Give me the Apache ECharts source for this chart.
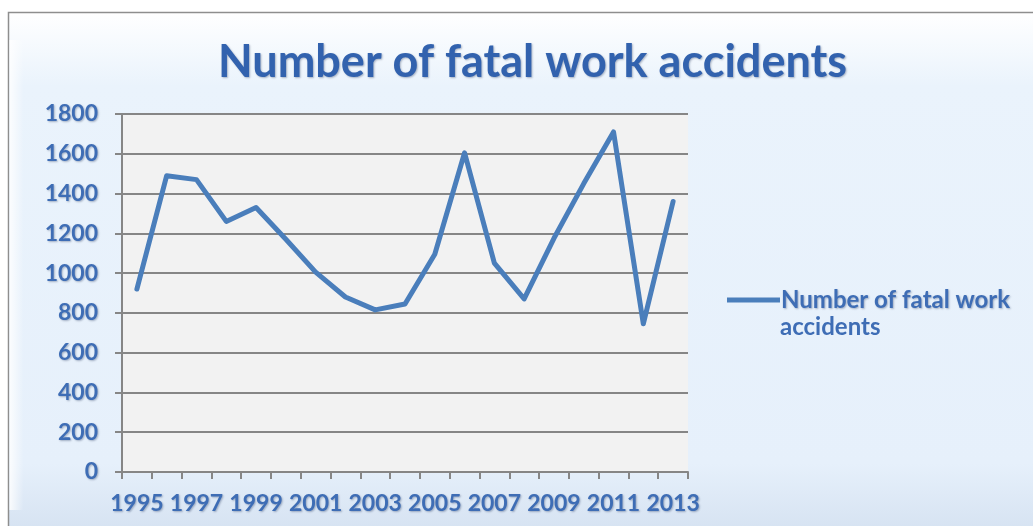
<!DOCTYPE html>
<html>
<head>
<meta charset="utf-8">
<script src="https://cdn.jsdelivr.net/npm/echarts@6/dist/echarts.min.js"></script>
<style>
html,body{margin:0;padding:0;background:#fff;}
#c{width:1033px;height:526px;}
</style>
</head>
<body>
<div id="c"></div>
<script>
var years = ['1995','1996','1997','1998','1999','2000','2001','2002','2003','2004','2005','2006','2007','2008','2009','2010','2011','2012','2013'];
var fatalAccidents = [920,1490,1470,1260,1330,1170,1005,880,815,845,1095,1605,1050,870,1175,1450,1710,745,1360];
var seriesName = 'Number of fatal work accidents';
var titleText = 'Number of fatal work accidents';

var FONT = 'Lato';
var BLUE = '#3E6DB5';
var shadow = {textShadowColor:'rgba(30,50,90,0.35)', textShadowBlur:2, textShadowOffsetX:1, textShadowOffsetY:1};

var chart = echarts.init(document.getElementById('c'), null, {renderer:'canvas'});
chart.setOption({
  backgroundColor:'#ffffff',
  animation:false,
  graphic:[
    {type:'rect', z:-10, silent:true,
     shape:{x:8.5,y:12.5,width:1040,height:530},
     style:{
       fill:{type:'linear',x:0,y:0,x2:0,y2:1,colorStops:[
         {offset:0,color:'#FFFFFF'},{offset:0.14,color:'#EAF3FC'},{offset:0.85,color:'#E6F0FB'},{offset:1,color:'#D3E0F0'}]},
       stroke:'#8E8E8E', lineWidth:1.5}
    },
    {type:'rect', z:-9, silent:true,
     shape:{x:9.5,y:40,width:14,height:470},
     style:{fill:{type:'linear',x:0,y:0,x2:1,y2:0,colorStops:[
         {offset:0,color:'rgba(255,255,255,0.85)'},{offset:1,color:'rgba(255,255,255,0)'}]}}
    },
    {type:'text', z:10, left:780, top:315,
     style:{text:'accidents', fill:BLUE, font:'bold 24px '+FONT, shadowColor:'rgba(30,50,90,0.35)', shadowBlur:2, shadowOffsetX:1, shadowOffsetY:1}}
  ],
  title:{
    text:titleText, left:213, top:35,
    textStyle:Object.assign({fontFamily:FONT, fontWeight:'bold', fontSize:45, color:'#3262AE'}, shadow)
  },
  legend:{
    left:722, top:283, itemWidth:53, itemHeight:5, icon:'rect',
    formatter:function(){return 'Number of fatal work';},
    itemGap:5,
    textStyle:Object.assign({fontFamily:FONT, fontWeight:'bold', fontSize:24, color:BLUE, padding:[0,0,0,-4]}, shadow),
    data:[seriesName]
  },
  grid:{left:122, right:345, top:114, bottom:54, show:true, backgroundColor:'#F2F2F2', borderWidth:0},
  xAxis:{
    type:'category', data:years, boundaryGap:true,
    axisLine:{lineStyle:{color:'#868686', width:2}},
    axisTick:{show:true, interval:0, length:7, lineStyle:{color:'#868686', width:2}},
    axisLabel:Object.assign({interval:1, margin:20, fontFamily:FONT, fontWeight:'bold', fontSize:23, color:BLUE}, shadow),
    splitLine:{show:false}
  },
  yAxis:{
    type:'value', min:0, max:1800, interval:200,
    axisLine:{show:true, lineStyle:{color:'#868686', width:2}},
    axisTick:{show:true, length:7, lineStyle:{color:'#868686', width:2}},
    axisLabel:Object.assign({margin:24, fontFamily:FONT, fontWeight:'bold', fontSize:23, color:BLUE,
      formatter:function(v){return String(v);}}, shadow),
    splitLine:{lineStyle:{color:'#868686', width:2}}
  },
  series:[{
    name:seriesName, type:'line', data:fatalAccidents,
    showSymbol:false, symbol:'none',
    lineStyle:{color:'#4A7EBB', width:5, cap:'round', join:'round'},
    itemStyle:{color:'#4A7EBB'}
  }]
});
</script>
</body>
</html>
